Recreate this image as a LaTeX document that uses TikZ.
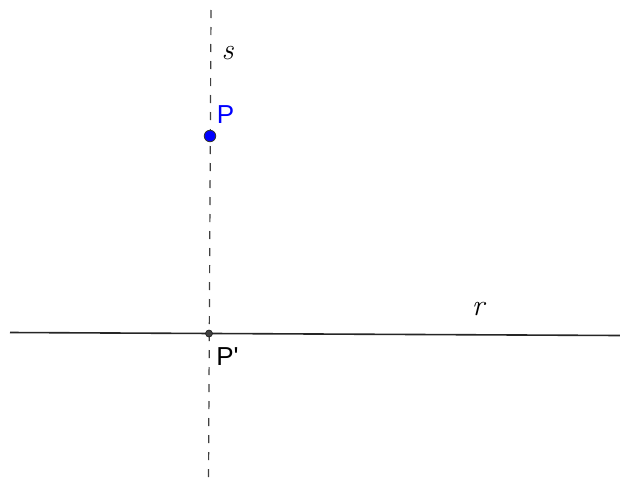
\documentclass[tikz,border=0pt]{standalone}
\usepackage{fontspec}
\newfontfamily\labelfont{Liberation Sans}
\begin{document}
\begin{tikzpicture}[x=1pt,y=-1pt,
  lineS/.style={draw=black!75,line width=1.2pt,dash pattern=on 8pt off 9pt},
  lineR/.style={draw=black!85,line width=1.6pt},
  ptblue/.style={circle,fill=blue,draw=black!80,line width=0.8pt,inner sep=0pt,minimum size=11.5pt},
  ptgray/.style={circle,fill=black!75,draw=black!90,line width=0.6pt,inner sep=0pt,minimum size=7pt},
  ptlabel/.style={font=\labelfont\fontsize{26}{30}\selectfont,inner sep=0pt},
  linelabel/.style={font=\fontsize{30}{34}\selectfont\itshape,inner sep=0pt}]
\useasboundingbox (0,0) rectangle (620,482);
\fill[white] (0,0) rectangle (620,482);
\coordinate (sTop) at (211,10);
\coordinate (sBot) at (208.5,482);
\coordinate (rL) at (10,332.5);
\coordinate (rR) at (620,335.5);
\draw[lineS] (sTop) -- (sBot);
\draw[lineR] (rL) -- (rR);
\node[ptblue] (P) at (210,136) {};
\node[ptgray] (Pp) at (209,333.5) {};
\node[ptlabel,text=blue] (Plab) at (225.5,114.5) {P};
\node[ptlabel] (Pplab) at (227.5,356.5) {P'};
\node[linelabel] (slab) at (227.5,53.5) {s};
\node[linelabel] (rlab) at (478,309) {r};
\end{tikzpicture}
\end{document}
